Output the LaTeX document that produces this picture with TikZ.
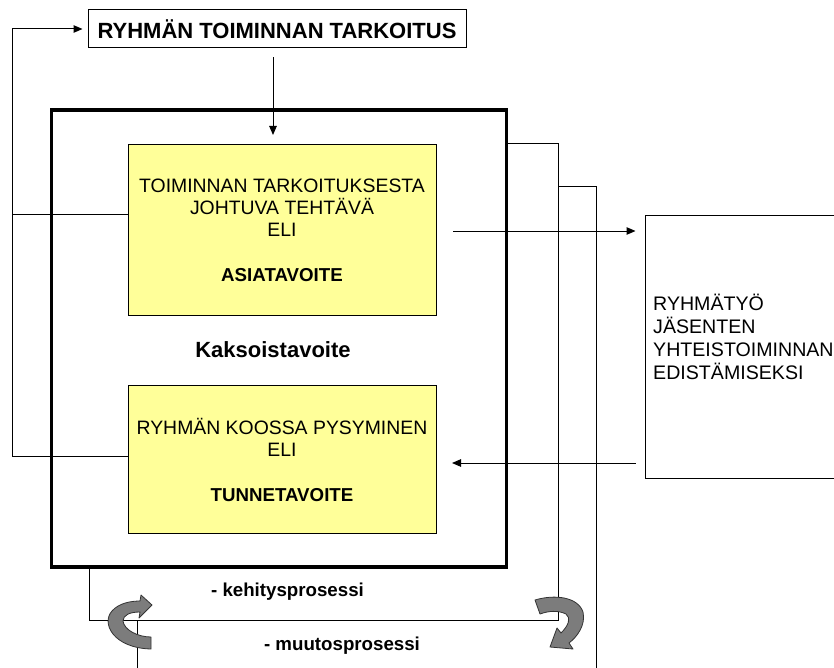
\documentclass[tikz,border=0pt]{standalone}
\usepackage{fontspec}
\setmainfont{Liberation Sans}
\usetikzlibrary{arrows.meta}
\definecolor{paleyellow}{HTML}{FFFF99}
\definecolor{swirlgray}{HTML}{7C7C7C}
\definecolor{swirledge}{HTML}{333333}

\begin{document}
\begin{tikzpicture}[x=1pt,y=-1pt,
  thinline/.style={line width=1pt, draw=black},
  arr/.style={thinline, -{Triangle[length=9pt,width=7.5pt]}},
  plainbox/.style={draw=black, line width=1pt, inner sep=0pt},
  goalbox/.style={plainbox, fill=paleyellow, minimum width=308pt, align=center,
    font=\fontsize{19.4}{22}\selectfont},
  bigbold/.style={font=\fontsize{22}{26}\selectfont\bfseries},
  smallbold/.style={font=\fontsize{18.7}{22}\selectfont\bfseries},
  swirl/.style={fill=swirlgray, draw=swirledge, line width=0.8pt, line join=round}
]
\useasboundingbox (0,0) rectangle (834,668);
\clip (0,0) rectangle (834,668);

% purpose of the group
\node[plainbox, bigbold, minimum width=378pt, minimum height=38pt] (title) at (277,29)
  {RYHMÄN TOIMINNAN TARKOITUS};

% the dual-goal frame
\node[draw=black, line width=3.2pt, minimum width=455pt, minimum height=457pt] (frame) at (279,338.5) {};

\node[goalbox, minimum height=171pt] (task) at (282,230)
  {TOIMINNAN TARKOITUKSESTA\\JOHTUVA TEHTÄVÄ\\ELI\\[23pt]\textbf{\fontsize{18.7}{22}\selectfont ASIATAVOITE}};
\node[bigbold] (dual) at (273,350) {Kaksoistavoite};
\node[goalbox, minimum height=148pt] (feel) at (282,459.5)
  {RYHMÄN KOOSSA PYSYMINEN\\ELI\\[23pt]\textbf{\fontsize{18.7}{22}\selectfont TUNNETAVOITE}};

% group work box, running off the right edge
\node[plainbox, minimum width=215pt, minimum height=262pt] (group) at (752.5,347) {};
\node[anchor=west, align=left, inner sep=0pt, font=\fontsize{19.6}{23}\selectfont] (grouptext) at (653,337)
  {RYHMÄTYÖ\\JÄSENTEN\\YHTEISTOIMINNAN\\EDISTÄMISEKSI};

% purpose feeds the task
\draw[arr, shorten <=9pt, shorten >=9pt] (273,0 |- title.south) -- (273,0 |- task.north);

% feedback from both goals back to the purpose
\draw[thinline] (task.west |- 0,215) -- (12,215);
\draw[arr] (feel.west |- 0,456) -- (12,456) -- (12,0 |- title.west) -- ([xshift=-5pt]title.west);

% exchange with the group work
\draw[arr, shorten >=9pt] (453,231) -- (group.west |- 0,231);
\draw[arr, shorten <=9pt] (group.west |- 0,463) -- (452,463);

% development and change loops
\coordinate (loopA) at (558,144);
\coordinate (loopB) at (596,187);
\draw[thinline] (frame.east |- loopA) -- (loopA) -- (558,620) -- (89,620) -- (89,0 |- frame.south);
\draw[thinline] (558,0 |- loopB) -- (loopB) -- (596,668);
\draw[thinline] (137,620) -- (137,668);

\node[smallbold] (dev) at (287.5,592) {- kehitysprosessi};
\node[smallbold] (change) at (342,646) {- muutosprosessi};

% curved process arrows
\path[swirl] (151,649) .. controls (113,648) and (101,623) .. (112,611)
  .. controls (119,603) and (131,601) .. (140,601) -- (141,595) -- (152,605) -- (139,618) -- (140,612)
  .. controls (130,612) and (123,615) .. (123,621)
  .. controls (124,630) and (138,637) .. (151,637) -- cycle;
\path[swirl] (535,600) .. controls (555,594) and (578,597) .. (583,612)
  .. controls (586,625) and (577,637) .. (569,643) -- (573,649) -- (550,647) -- (557,628) -- (561,633)
  .. controls (569,625) and (571,618) .. (566,614)
  .. controls (558,610) and (548,611) .. (540,614) -- cycle;
\end{tikzpicture}
\end{document}
